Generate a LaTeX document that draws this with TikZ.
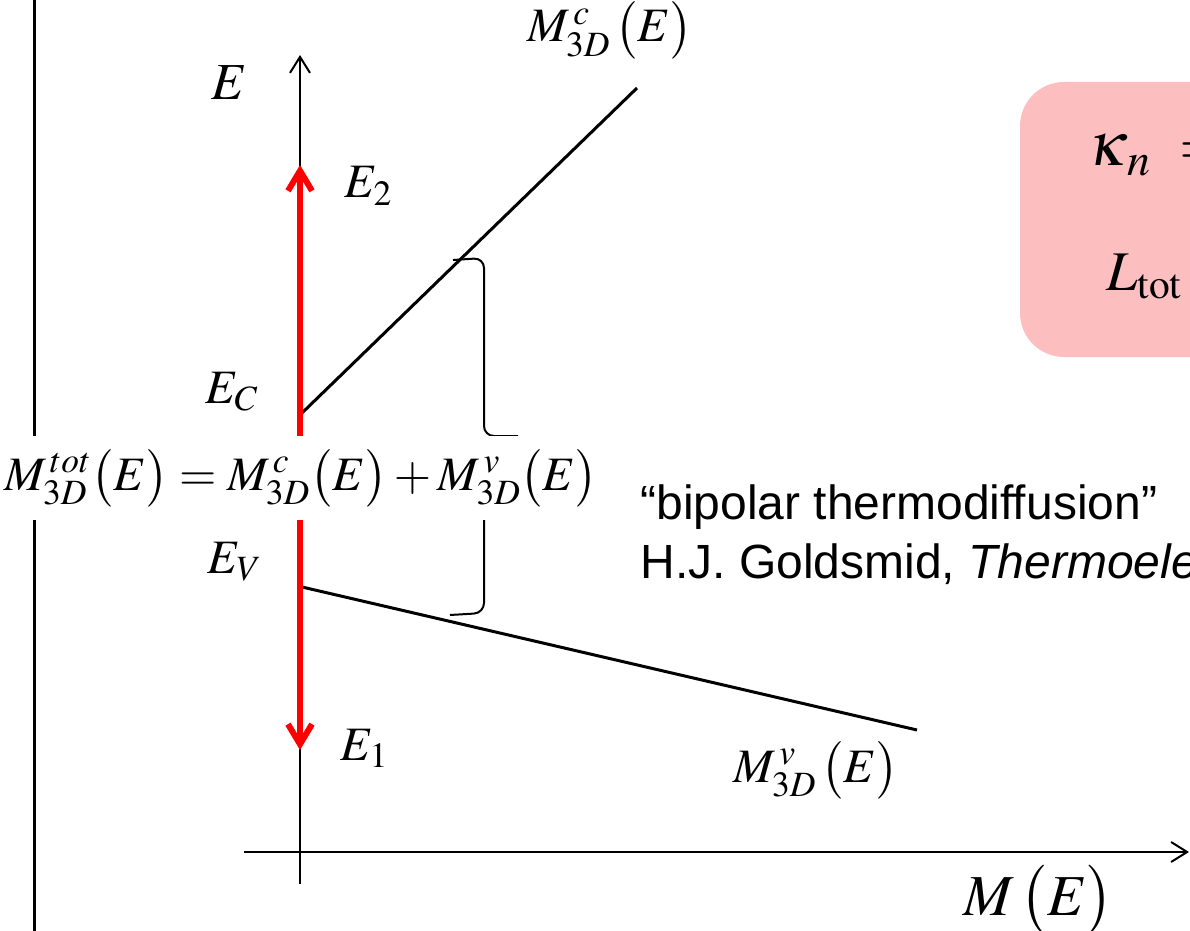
\documentclass[tikz,border=0pt]{standalone}
\usepackage{mathptmx}
\usepackage{fontspec}
\setmainfont{Liberation Serif}
\newfontfamily\arial{Liberation Sans}
\usetikzlibrary{arrows.meta}
\definecolor{boxpink}{RGB}{252,190,190}
\definecolor{arrred}{RGB}{255,0,0}
\begin{document}
\begin{tikzpicture}[x=0.5pt,y=-0.5pt,
  lbl/.style={inner sep=0pt, anchor=base west},
  fs/.style={font=\fontsize{#1}{#1}\selectfont},
  axisline/.style={line width=1pt, -{Straight Barb[length=8pt,width=10pt,line width=1pt]}},
  redarrow/.style={line width=3pt, draw=arrred, -{Straight Barb[length=10pt,width=12pt,line width=3pt]}},
  bandline/.style={line width=1.5pt},
  bracestyle/.style={line width=1pt, rounded corners=5pt},
]
\useasboundingbox (0,0) rectangle (1190,931);
\clip (0,0) rectangle (1190,931);

% pink box
\fill[boxpink, rounded corners=22pt] (1020,82) rectangle (1300,357);
\node[lbl, fs=31] (kap) at (1088,166) {$\kappa_{\,n}\;=$};
\node[lbl, fs=28] (ltot) at (1106,290) {$L_{\mathrm{tot}}\;\,=$};

% left vertical line
\coordinate (lt) at (34,0);
\coordinate (lb) at (34,931);
\draw[line width=1.5pt] (lt) -- (lb);

% axes
\coordinate (eb) at (300,884);
\coordinate (et) at (300,55);
\draw[axisline] (eb) -- (et);
\coordinate (xl) at (244,852);
\coordinate (xr) at (1189,852);
\draw[axisline] (xl) -- (xr);

% bands
\coordinate (c0) at (302,413);
\coordinate (c1) at (637,88);
\coordinate (v0) at (302,587);
\coordinate (v1) at (917,730);
\draw[bandline] (c0) -- (c1);
\draw[bandline] (v0) -- (v1);

% red arrows
\coordinate (rc) at (300,437);
\coordinate (r2) at (300,165);
\coordinate (rv) at (300,520);
\coordinate (r1) at (300,750);
\draw[redarrow] (rc) -- (r2);
\draw[redarrow] (rv) -- (r1);

% brace
\coordinate (bt) at (453,260);
\coordinate (bm) at (518,436);
\coordinate (bb) at (450,615);
\draw[bracestyle] (bt) -- (484,258) -- (484,436) -- (bm);
\draw[bracestyle] (bb) -- (484,613) -- (484,450);

% labels
\node[lbl, fs=26] (Elab) at (211,100) {$E$};
\node[lbl, fs=24] (E2) at (344,198) {$E_2$};
\node[lbl, fs=24] (EC) at (205,403) {$E_C$};
\node[lbl, fs=24] (EV) at (207,573) {$E_V$};
\node[lbl, fs=24] (E1) at (340,760) {$E_1$};
\node[lbl, fs=24] (Mc) at (527,42) {$M^{\,c}_{3D}\,\bigl(E\bigr)$};
\node[lbl, fs=24] (Mv) at (733,782) {$M^{\,v}_{3D}\,\bigl(E\bigr)$};
\node[lbl, fs=29] (ME) at (963,915) {$M\,\bigl(E\bigr)$};

% middle label with white background
\node[fill=white, inner xsep=2pt, minimum height=42pt, fs=24] (Mtot) at (301,478)
  {$M^{\,tot}_{3D}\bigl(E\bigr)=M^{\,c}_{3D}\bigl(E\bigr)+M^{\,v}_{3D}\bigl(E\bigr)$};

% text
\node[lbl, fs=24] (bip) at (640,519) {\arial “bipolar thermodiffusion”};
\node[lbl, fs=24] (gold) at (640,578) {\arial H.J. Goldsmid, \textit{Thermoelectric Refrigeration}};
\end{tikzpicture}
\end{document}
